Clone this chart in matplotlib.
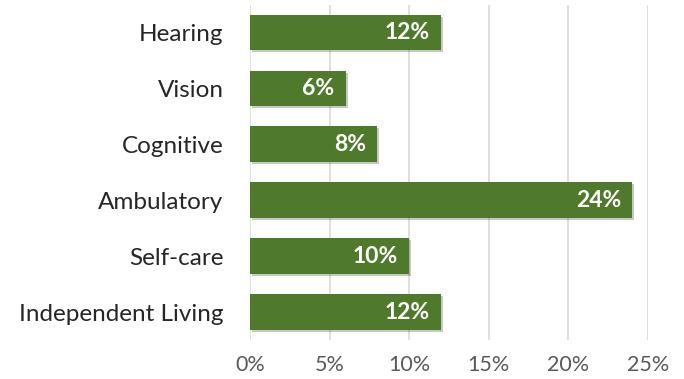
import matplotlib
matplotlib.use("Agg")
import matplotlib.pyplot as plt
import matplotlib.patheffects as pe
from matplotlib.ticker import FuncFormatter

categories = ["Independent Living", "Self-care", "Ambulatory", "Cognitive", "Vision", "Hearing"]
values = [12, 10, 24, 8, 6, 12]
xticks = [0, 5, 10, 15, 20, 25]

plt.rcParams['font.family'] = ['Lato', 'DejaVu Sans']

fig = plt.figure(figsize=(6.84, 3.79), dpi=100)
ax = fig.add_axes([0.3655, 0.103, 0.582, 0.885])

bars = ax.barh(categories, values, height=0.64, color="#4F7A2C", zorder=3)
for b in bars:
    b.set_path_effects([pe.SimplePatchShadow(offset=(1.5, -1.5), shadow_rgbFace="#000000", alpha=0.22),
                        pe.Normal()])

for b, v in zip(bars, values):
    ax.text(v - 0.7, b.get_y() + b.get_height() / 2, f"{v}%", ha="right", va="center",
            color="white", fontsize=16.5, fontweight="bold", zorder=4)

ax.set_xlim(0, 25)
ax.set_ylim(-0.5, len(categories) - 0.5)
ax.set_xticks(xticks)
ax.xaxis.set_major_formatter(FuncFormatter(lambda x, _: f"{x:.0f}%"))
ax.grid(axis="x", color="#D9D9D9", linewidth=1.2, zorder=0)
for s in ax.spines.values():
    s.set_visible(False)
ax.tick_params(axis="both", length=0)
ax.tick_params(axis="y", labelsize=17.5, colors="#262626", pad=19)
ax.tick_params(axis="x", labelsize=15.5, colors="#595959", pad=11)

fig.savefig("out.png", dpi=100)
